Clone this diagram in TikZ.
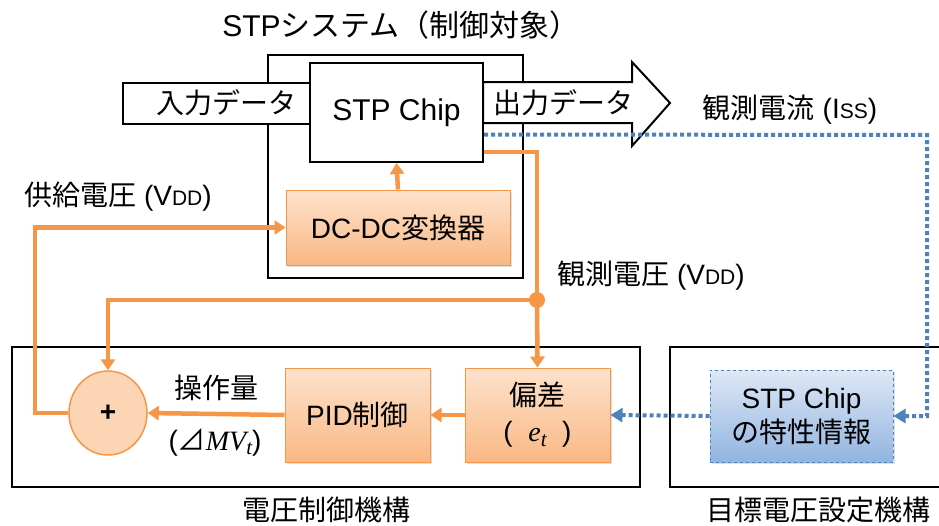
\documentclass[tikz,border=0pt]{standalone}
\usepackage{fontspec}
\setmainfont{Liberation Sans}
\newfontfamily\jp{Noto Sans CJK JP}
\newfontfamily\serifit{Liberation Serif Italic}
\usetikzlibrary{arrows.meta,shapes.geometric,shadows}

\definecolor{orline}{RGB}{247,150,70}
\definecolor{ortop}{RGB}{253,226,204}
\definecolor{orbot}{RGB}{249,184,132}
\definecolor{orfill}{RGB}{252,213,180}
\definecolor{blline}{RGB}{79,129,189}
\definecolor{bltop}{RGB}{222,232,246}
\definecolor{blbot}{RGB}{146,180,224}

% small capitals used in the subscripts of V and I
\newcommand{\smallcap}[1]{{\fontsize{21}{21}\selectfont #1}}
% italic variable with a lowered index
\newcommand{\ivar}[2]{{\serifit #1\raisebox{-0.35ex}{\fontsize{21}{21}\selectfont #2}}}

\tikzset{
  txt/.style={font=\fontsize{28}{32}\selectfont, inner sep=0pt},
  frame/.style={draw=black, line width=2pt},
  whitebox/.style={draw=black, line width=2pt, fill=white},
  obox/.style={draw=orline, line width=1pt, top color=ortop, bottom color=orbot,
    drop shadow={opacity=0.25, shadow xshift=2pt, shadow yshift=-2pt},
    font=\fontsize{28}{34}\selectfont, align=center, inner sep=0pt},
  bbox/.style={draw=blline, dashed, line width=1pt, top color=bltop, bottom color=blbot,
    drop shadow={opacity=0.25, shadow xshift=2pt, shadow yshift=-2pt},
    font=\fontsize{28}{34}\selectfont, align=center, inner sep=0pt},
  oline/.style={draw=orline, line width=4.5pt},
  oarrow/.style={oline, -{Triangle[width=14pt,length=11pt]}},
  bline/.style={draw=blline, line width=4pt, dash pattern=on 4pt off 3pt},
  barrow/.style={bline, -{Triangle[width=14pt,length=12pt]}},
}

\begin{document}
\begin{tikzpicture}[x=1pt,y=-1pt]
\useasboundingbox[fill=white] (0,0) rectangle (939,525);

% title of the controlled system
\node[txt, font=\fontsize{30}{34}\selectfont] (ttl) at (401,25) {STP{\jp システム（制御対象）}};

% STP system frame
\draw[frame] (268,55) rectangle (523,278);

% input data band
\node[whitebox, minimum width=187pt, minimum height=41pt, inner sep=0pt] (inband) at (216.5,103.5) {};
\node[txt] (intxt) at (226,103) {\jp 入力データ};

% output data arrow
\draw[whitebox, line join=miter] (483,82) coordinate (outstart) -- (632,82) -- (632,62) -- (670,103) coordinate (outtip)
  -- (632,146) -- (632,123) -- (483,123) -- cycle;
\node[txt] (outtxt) at (563,103) {\jp 出力データ};

% STP chip
\node[whitebox, minimum width=173pt, minimum height=99pt, inner sep=0pt] (chip) at (396.5,112.5) {};
\node[txt, font=\fontsize{30}{34}\selectfont] at (chip.center) {STP Chip};

% DC-DC converter
\node[obox, minimum width=224pt, minimum height=75pt] (dcdc) at (398,227.5) {DC-DC{\jp 変換器}};

% voltage control mechanism
\draw[frame] (12,347) rectangle (640,487);
\node[txt] (ctltitle) at (326,510) {\jp 電圧制御機構};

% target voltage setting mechanism
\draw[frame] (945,347) -- (670,347) -- (670,487) -- (945,487);
\node[txt] (tgttitle) at (818,510) {\jp 目標電圧設定機構};

% blocks of the controller
\node[obox, minimum width=145pt, minimum height=94pt] (dev) at (537.5,415) {{\jp 偏差}\\[2pt](\ \ \ivar{e}{t}\ \ )};
\node[obox, minimum width=145pt, minimum height=94pt] (pid) at (357.5,415) {PID{\jp 制御}};
\node[ellipse, draw=orline, line width=1.5pt, fill=orfill, minimum width=78pt, minimum height=84pt,
  font=\bfseries\fontsize{28}{32}\selectfont, inner sep=0pt] (sum) at (108,413) {+};
\node[bbox, minimum width=183pt, minimum height=92pt] (info) at (801.5,416) {STP Chip\\{\jp の特性情報}};

% labels
\node[txt] (lsupply) at (118,197) {{\jp 供給電圧} (V\smallcap{DD})};
\node[txt] (lvobs) at (651,276) {{\jp 観測電圧} (V\smallcap{DD})};
\node[txt] (liobs) at (790,110) {{\jp 観測電流} (I\smallcap{SS})};
\node[txt] (lmv) at (216,388) {\jp 操作量};
\node[txt] (lmvs) at (215,442) {({\jp ⊿}\ivar{MV}{t})};

% measured current path
\coordinate (bcorner) at (927,135);
\draw[barrow] ([yshift=-22pt]chip.east) -- (bcorner) |- (info.east);
\draw[barrow] (info.west) -- (dev.east);

% voltage feedback paths
\coordinate (jn) at (537,300);
\draw[oline] ([yshift=-39.5pt]chip.east) -| (jn);
\draw[oarrow] (jn) -- (dev.north);
\draw[oarrow] (jn) -| (sum.north);
\fill[orline] (jn) circle (8pt);
\draw[oarrow] (dev.west) -- (pid.east);
\draw[oarrow] (pid.west) -- (sum.east);
\draw[oarrow] (sum.west) -- (35,413) |- (dcdc.west);
\draw[oarrow] (dcdc.north) -- (chip.south);
\end{tikzpicture}
\end{document}
